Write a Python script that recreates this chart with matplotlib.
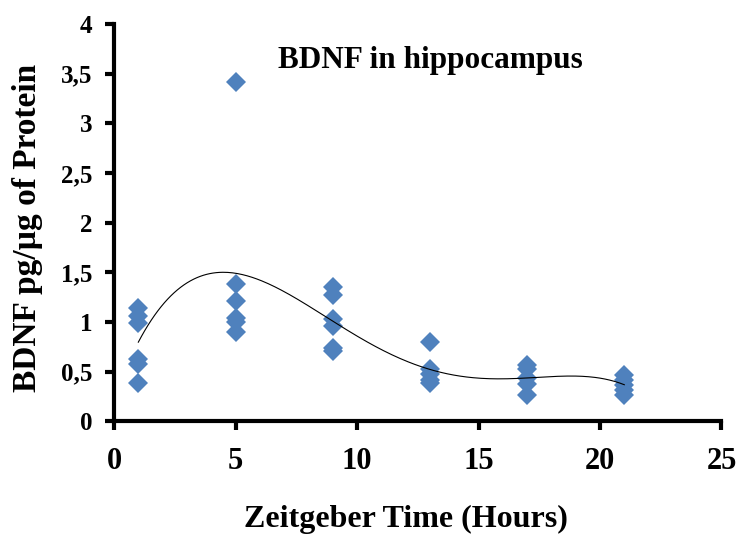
import numpy as np
import matplotlib
matplotlib.use("Agg")
import matplotlib.pyplot as plt

# Data
zt_hours = [1, 1, 1, 1, 1, 1,
            5, 5, 5, 5, 5, 5,
            9, 9, 9, 9, 9, 9,
            13, 13, 13, 13, 13,
            17, 17, 17, 17, 17,
            21, 21, 21, 21, 21]
bdnf = [1.14, 1.06, 0.99, 0.63, 0.58, 0.39,
        3.42, 1.38, 1.21, 1.04, 1.00, 0.90,
        1.35, 1.27, 1.03, 0.96, 0.74, 0.71,
        0.80, 0.53, 0.48, 0.42, 0.39,
        0.57, 0.53, 0.44, 0.38, 0.27,
        0.47, 0.42, 0.37, 0.32, 0.27]
x_ticks = [0, 5, 10, 15, 20, 25]
y_ticks = [0, 0.5, 1, 1.5, 2, 2.5, 3, 3.5, 4]
y_tick_labels = ["0", "0,5", "1", "1,5", "2", "2,5", "3", "3,5", "4"]
title_text = "BDNF in hippocampus"
x_label = "Zeitgeber Time (Hours)"
y_label = "BDNF pg/\u00b5g of Protein"

plt.rcParams['font.family'] = ['Liberation Serif', 'DejaVu Serif']
plt.rcParams['font.weight'] = 'bold'

fig = plt.figure(figsize=(7.39, 5.37), dpi=100)
ax = fig.add_axes([0.1543, 0.2151, 0.822, 0.7402])

x = np.array(zt_hours, dtype=float)
y = np.array(bdnf, dtype=float)

# Polynomial trendline (order 5) fitted to the data
coef = np.polyfit(x, y, 5)
xs = np.linspace(min(zt_hours), max(zt_hours), 300)
ax.plot(xs, np.polyval(coef, xs), color='black', lw=0.8, zorder=3)

ax.plot(x, y, linestyle='none', marker='D', ms=10.5, color='#4F81BD',
        markeredgewidth=0, zorder=2)

ax.set_xlim(0, 25)
ax.set_ylim(0, 4)
ax.set_xticks(x_ticks)
ax.set_xticklabels([str(t) for t in x_ticks])
ax.set_yticks(y_ticks)
ax.set_yticklabels(y_tick_labels)

for s in ['top', 'right']:
    ax.spines[s].set_visible(False)
for s in ['left', 'bottom']:
    ax.spines[s].set_linewidth(3)
ax.tick_params(axis='both', direction='out', length=6.5, width=3)
ax.tick_params(axis='x', labelsize=22, pad=12)
ax.tick_params(axis='y', labelsize=18, pad=9)
for lab in ax.get_xticklabels() + ax.get_yticklabels():
    lab.set_fontweight('bold')

ax.set_xlabel(x_label, fontsize=23, fontweight='bold', va='center', ha='center')
ax.xaxis.set_label_coords(0.481, -0.247)
ax.set_ylabel(y_label, fontsize=24, fontweight='bold', va='center', ha='center')
ax.yaxis.set_label_coords(-0.143, 0.486)
ax.text(13, 3.63, title_text, fontsize=22.5, fontweight='bold',
        ha='center', va='center')

fig.savefig('out.png', dpi=100)
